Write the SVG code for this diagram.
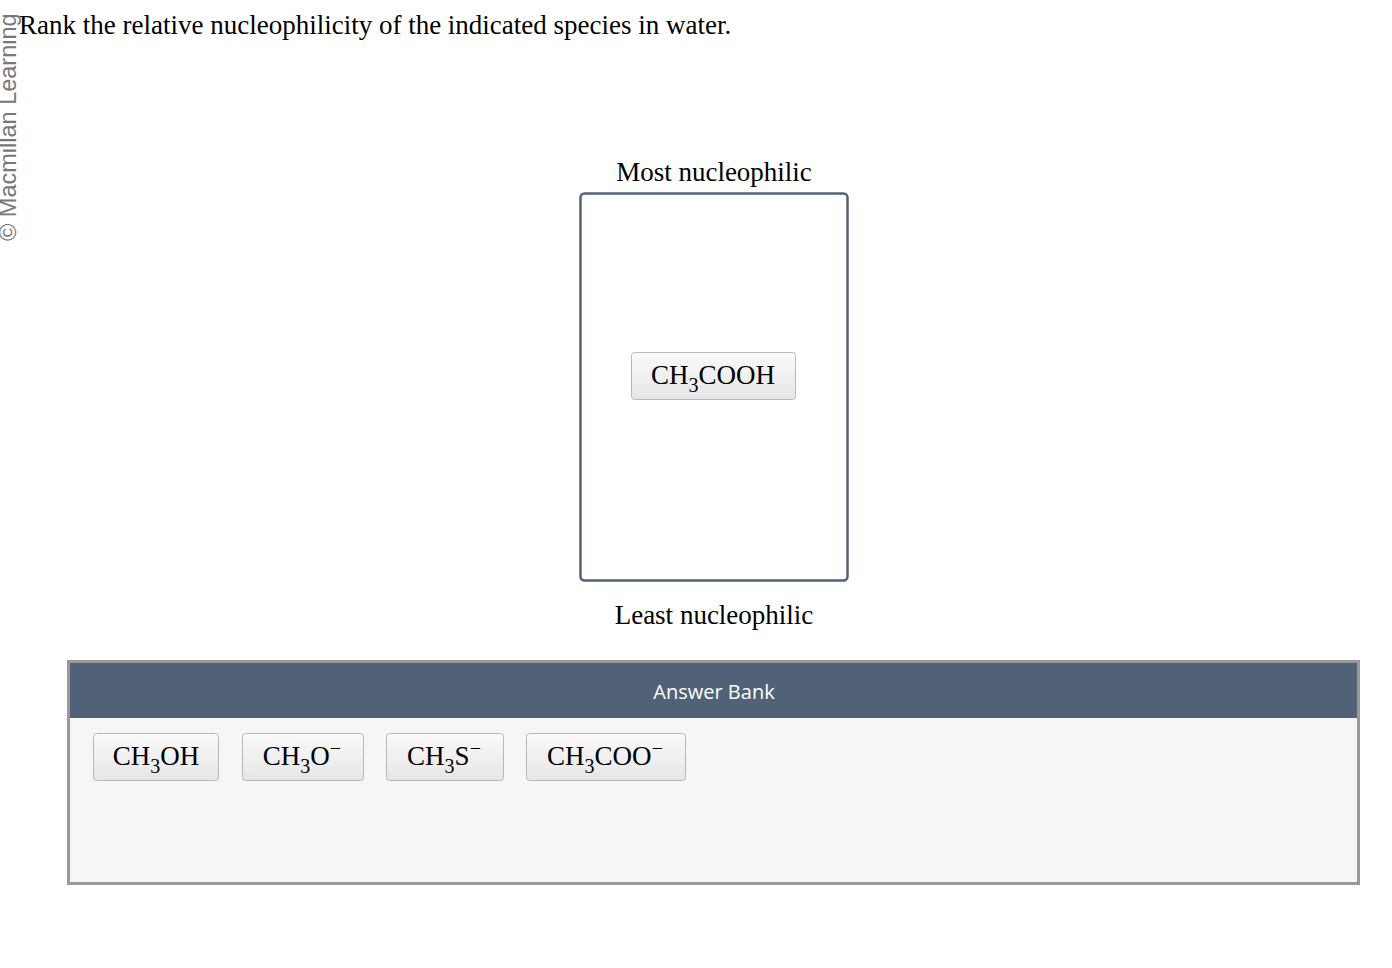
<svg xmlns="http://www.w3.org/2000/svg" width="1392" height="968" viewBox="0 0 1392 968">
<defs>
<linearGradient id="btn" x1="0" y1="0" x2="0" y2="1"><stop offset="0" stop-color="#fafafa"/><stop offset="1" stop-color="#e6e6e6"/></linearGradient>
<style>
.t{font-family:"Liberation Serif",serif;font-size:27px;fill:#000}
.c{font-family:"Liberation Serif",serif;font-size:27px;fill:#000}
.b{fill:url(#btn);stroke:#b8b8b8;stroke-width:1}
</style>
</defs>
<rect width="1392" height="968" fill="#fff"/>
<text transform="translate(16,241) rotate(-90)" font-family="Liberation Sans,sans-serif" font-size="23.5" fill="#777">© Macmillan Learning</text>
<text class="t" x="19" y="34">Rank the relative nucleophilicity of the indicated species in water.</text>
<text class="t" x="714" y="181" text-anchor="middle">Most nucleophilic</text>
<g id="rankbox"><rect x="580.5" y="193.5" width="267" height="387" rx="4" fill="#fff" stroke="#516278" stroke-width="2.5"/></g>
<text class="t" x="714" y="624" text-anchor="middle">Least nucleophilic</text>
<g id="n_ch3cooh"><rect class="b" x="631.5" y="352.5" width="164" height="47" rx="3"/><text class="c" x="713" y="384" text-anchor="middle">CH<tspan dy="8" font-size="20">3</tspan><tspan dy="-8">COOH</tspan></text></g>
<g id="bank">
<rect x="68.5" y="661.5" width="1290" height="222" fill="#f6f6f6" stroke="#999" stroke-width="3"/>
<rect x="70" y="663" width="1287" height="55" fill="#516278"/>
<text x="714" y="699" text-anchor="middle" font-family="Open Sans,sans-serif" font-size="20" fill="#fff">Answer Bank</text>
</g>
<g id="n_ch3oh"><rect class="b" x="93.5" y="733.5" width="125" height="47" rx="3"/><text class="c" x="156" y="765" text-anchor="middle">CH<tspan dy="8" font-size="20">3</tspan><tspan dy="-8">OH</tspan></text></g>
<g id="n_ch3o"><rect class="b" x="242.5" y="733.5" width="121" height="47" rx="3"/><text class="c" x="302" y="765" text-anchor="middle">CH<tspan dy="8" font-size="20">3</tspan><tspan dy="-8">O</tspan><tspan dy="-10" font-size="20">−</tspan></text></g>
<g id="n_ch3s"><rect class="b" x="386.5" y="733.5" width="117" height="47" rx="3"/><text class="c" x="444" y="765" text-anchor="middle">CH<tspan dy="8" font-size="20">3</tspan><tspan dy="-8">S</tspan><tspan dy="-10" font-size="20">−</tspan></text></g>
<g id="n_ch3coo"><rect class="b" x="526.5" y="733.5" width="159" height="47" rx="3"/><text class="c" x="605" y="765" text-anchor="middle">CH<tspan dy="8" font-size="20">3</tspan><tspan dy="-8">COO</tspan><tspan dy="-10" font-size="20">−</tspan></text></g>
<g id="connectors"/>
</svg>
